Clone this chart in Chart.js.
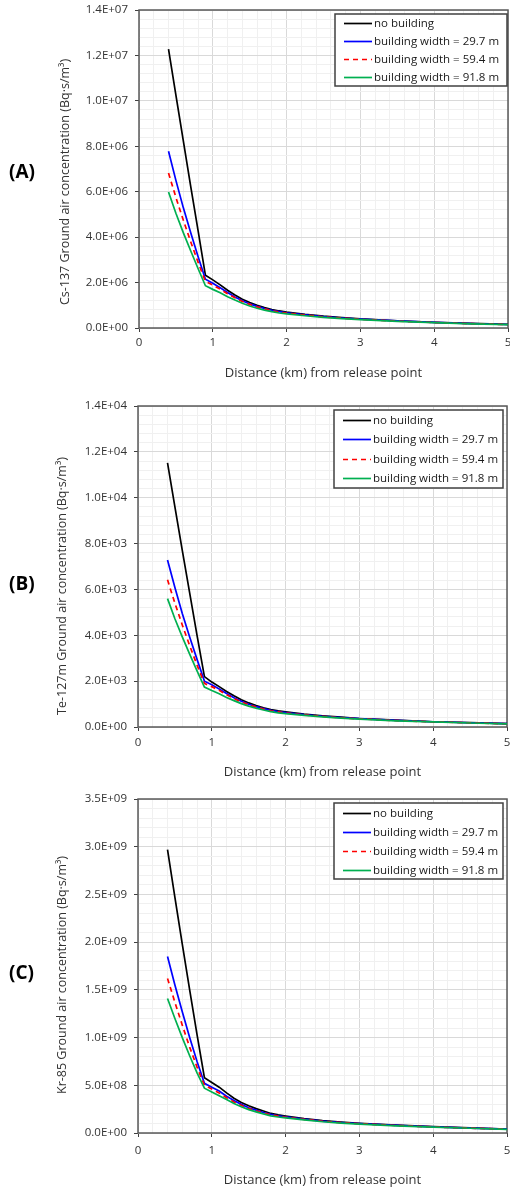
<!DOCTYPE html>
<html>
<head>
<meta charset="utf-8">
<script src="https://cdn.jsdelivr.net/npm/chart.js@4/dist/chart.umd.min.js"></script>
<style>
  body { margin: 0; background: #fff; }
  #wrap { position: relative; width: 510px; height: 1189px; }
  canvas { position: absolute; left: 0; }
  .tag { position: absolute; left: 9px; font: bold 19px "Open Sans"; color: #000; height: 26px; line-height: 26px; }
</style>
</head>
<body>
<div id="wrap">
  <canvas id="chartA" width="510" height="392" style="top:0px"></canvas>
  <canvas id="chartB" width="510" height="396" style="top:392px"></canvas>
  <canvas id="chartC" width="510" height="401" style="top:788px"></canvas>
  <div class="tag" style="top:158px">(A)</div>
  <div class="tag" style="top:570px">(B)</div>
  <div class="tag" style="top:959px">(C)</div>
</div>
<script>
// DATA
const distanceKm = [0.4, 0.5, 0.6, 0.7, 0.8, 0.9, 1.0, 1.1, 1.2, 1.3, 1.4, 1.5, 1.6, 1.7, 1.8, 1.9, 2.0, 2.25, 2.5, 2.75, 3.0, 3.5, 4.0, 4.5, 5.0];
const seriesNames = ["no building", "building width = 29.7 m", "building width = 59.4 m", "building width = 91.8 m"];

// Cs-137 (Bq·s/m3)
const csNoBuilding = [12.28e6, 10.25e6, 8.25e6, 6.25e6, 4.3e6, 2.32e6, 2.12e6, 1.9e6, 1.66e6, 1.45e6, 1.27e6, 1.12e6, 1.0e6, 0.9e6, 0.81e6, 0.75e6, 0.70e6, 0.60e6, 0.52e6, 0.46e6, 0.40e6, 0.32e6, 0.25e6, 0.20e6, 0.16e6];
const csWidth297 = [7.78e6, 6.5e6, 5.3e6, 4.2e6, 3.15e6, 2.15e6, 1.97e6, 1.77e6, 1.56e6, 1.37e6, 1.2e6, 1.06e6, 0.95e6, 0.86e6, 0.78e6, 0.72e6, 0.67e6, 0.58e6, 0.50e6, 0.44e6, 0.39e6, 0.31e6, 0.245e6, 0.195e6, 0.155e6];
const csWidth594 = [6.82e6, 5.75e6, 4.75e6, 3.8e6, 2.9e6, 2.05e6, 1.89e6, 1.71e6, 1.51e6, 1.33e6, 1.17e6, 1.04e6, 0.93e6, 0.84e6, 0.76e6, 0.70e6, 0.655e6, 0.57e6, 0.49e6, 0.43e6, 0.38e6, 0.30e6, 0.24e6, 0.19e6, 0.152e6];
const csWidth918 = [5.99e6, 5.05e6, 4.2e6, 3.4e6, 2.62e6, 1.86e6, 1.70e6, 1.55e6, 1.38e6, 1.23e6, 1.09e6, 0.97e6, 0.87e6, 0.79e6, 0.72e6, 0.66e6, 0.62e6, 0.54e6, 0.47e6, 0.415e6, 0.37e6, 0.29e6, 0.235e6, 0.185e6, 0.148e6];

// Te-127m
const teNoBuilding = [11.52e3, 9.6e3, 7.7e3, 5.85e3, 4.0e3, 2.2e3, 1.96e3, 1.76e3, 1.55e3, 1.36e3, 1.19e3, 1.05e3, 0.94e3, 0.84e3, 0.76e3, 0.70e3, 0.66e3, 0.56e3, 0.49e3, 0.43e3, 0.37e3, 0.30e3, 0.23e3, 0.19e3, 0.15e3];
const teWidth297 = [7.28e3, 6.08e3, 4.95e3, 3.92e3, 2.95e3, 2.0e3, 1.84e3, 1.66e3, 1.46e3, 1.28e3, 1.12e3, 0.99e3, 0.89e3, 0.80e3, 0.73e3, 0.67e3, 0.63e3, 0.54e3, 0.47e3, 0.41e3, 0.365e3, 0.29e3, 0.23e3, 0.185e3, 0.145e3];
const teWidth594 = [6.42e3, 5.4e3, 4.45e3, 3.55e3, 2.7e3, 1.9e3, 1.76e3, 1.6e3, 1.41e3, 1.24e3, 1.09e3, 0.97e3, 0.87e3, 0.78e3, 0.71e3, 0.66e3, 0.61e3, 0.53e3, 0.46e3, 0.40e3, 0.355e3, 0.28e3, 0.225e3, 0.18e3, 0.142e3];
const teWidth918 = [5.6e3, 4.72e3, 3.93e3, 3.18e3, 2.45e3, 1.74e3, 1.59e3, 1.45e3, 1.29e3, 1.15e3, 1.02e3, 0.91e3, 0.82e3, 0.74e3, 0.67e3, 0.62e3, 0.58e3, 0.505e3, 0.44e3, 0.39e3, 0.345e3, 0.27e3, 0.22e3, 0.175e3, 0.138e3];

// Kr-85
const krNoBuilding = [2.97e9, 2.47e9, 1.98e9, 1.5e9, 1.03e9, 0.58e9, 0.53e9, 0.48e9, 0.42e9, 0.365e9, 0.32e9, 0.285e9, 0.255e9, 0.23e9, 0.205e9, 0.19e9, 0.178e9, 0.15e9, 0.13e9, 0.115e9, 0.102e9, 0.082e9, 0.066e9, 0.053e9, 0.042e9];
const krWidth297 = [1.85e9, 1.55e9, 1.27e9, 1.0e9, 0.75e9, 0.52e9, 0.48e9, 0.44e9, 0.385e9, 0.34e9, 0.30e9, 0.265e9, 0.24e9, 0.215e9, 0.195e9, 0.18e9, 0.17e9, 0.145e9, 0.125e9, 0.11e9, 0.099e9, 0.08e9, 0.064e9, 0.052e9, 0.041e9];
const krWidth594 = [1.62e9, 1.37e9, 1.13e9, 0.9e9, 0.69e9, 0.5e9, 0.46e9, 0.42e9, 0.37e9, 0.325e9, 0.29e9, 0.257e9, 0.233e9, 0.21e9, 0.19e9, 0.176e9, 0.165e9, 0.142e9, 0.123e9, 0.108e9, 0.097e9, 0.078e9, 0.063e9, 0.051e9, 0.04e9];
const krWidth918 = [1.41e9, 1.2e9, 1.0e9, 0.81e9, 0.63e9, 0.47e9, 0.43e9, 0.39e9, 0.35e9, 0.31e9, 0.275e9, 0.245e9, 0.222e9, 0.20e9, 0.18e9, 0.168e9, 0.158e9, 0.137e9, 0.118e9, 0.104e9, 0.094e9, 0.075e9, 0.061e9, 0.05e9, 0.039e9];

// axis ranges: [max, major step]
const csAxis = [1.4e7, 2e6];
const teAxis = [1.4e4, 2e3];
const krAxis = [3.5e9, 5e8];
const xAxisKm = [0, 5, 1];

const lineStyles = [
  { color: "#000000", dash: [] },
  { color: "#0000ff", dash: [] },
  { color: "#ff0000", dash: [5, 4] },
  { color: "#00b050", dash: [] },
];

function sci(v) {
  const parts = v.toExponential(1).split("e");
  const e = parseInt(parts[1], 10);
  return parts[0] + "E" + (e < 0 ? "-" : "+") + String(Math.abs(e)).padStart(2, "0");
}

// frame around the plot area
const frame = {
  id: "frame",
  beforeDatasetsDraw(chart) {
    const { ctx, chartArea: a } = chart;
    ctx.save();
    ctx.strokeStyle = "#595959";
    ctx.lineWidth = 1.5;
    ctx.strokeRect(a.left, a.top, a.right - a.left, a.bottom - a.top);
    ctx.restore();
  },
};

// legend box inside the plot, top right
const legendBox = {
  id: "legendBox",
  afterDraw(chart, args, o) {
    const { ctx, chartArea } = chart;
    const x0 = chartArea.right - o.gap - o.w;
    const y0 = chartArea.top + o.top;
    ctx.save();
    ctx.fillStyle = "#fff";
    ctx.fillRect(x0, y0, o.w, o.h);
    ctx.strokeStyle = "#404040";
    ctx.lineWidth = 1.5;
    ctx.strokeRect(x0, y0, o.w, o.h);
    const step = o.h / 4;
    chart.data.datasets.forEach((ds, i) => {
      const y = Math.round(y0 + step * (i + 0.5)) + 0.5;
      ctx.beginPath();
      ctx.setLineDash(ds.borderDash);
      ctx.strokeStyle = ds.borderColor;
      ctx.lineWidth = ds.borderWidth;
      ctx.moveTo(x0 + 9, y);
      ctx.lineTo(x0 + 37, y);
      ctx.stroke();
      ctx.setLineDash([]);
      ctx.fillStyle = "#1a1a1a";
      ctx.font = '11.5px "Open Sans"';
      ctx.textBaseline = "middle";
      ctx.fillText(ds.label, x0 + 39, y);
    });
    ctx.restore();
  },
};

// rotated y title, placed by hand like the original
const yTitle = {
  id: "yTitle",
  afterDraw(chart, args, o) {
    const ctx = chart.ctx;
    ctx.save();
    ctx.translate(o.x, o.y);
    ctx.rotate(-Math.PI / 2);
    ctx.fillStyle = "#333333";
    ctx.font = '12.5px "Open Sans"';
    ctx.textAlign = "center";
    ctx.textBaseline = "middle";
    ctx.fillText(o.text, 0, 0);
    ctx.restore();
  },
};

function makeChart(id, values, axis, title, p) {
  const canvas = document.getElementById(id);
  const H = canvas.height;
  const minor = axis[1] / 5;
  return new Chart(canvas, {
    type: "line",
    data: {
      datasets: values.map((vals, i) => ({
        label: seriesNames[i],
        data: distanceKm.map((d, j) => ({ x: d, y: vals[j] })),
        borderColor: lineStyles[i].color,
        borderDash: lineStyles[i].dash,
        borderWidth: 1.7,
        pointRadius: 0,
        tension: 0,
        order: 3 - i,
      })),
    },
    options: {
      responsive: false,
      animation: false,
      devicePixelRatio: 1,
      layout: { padding: { top: p.top, right: 510 - p.right, left: 0, bottom: 0 } },
      plugins: {
        legend: { display: false },
        tooltip: { enabled: false },
        legendBox: p.legend,
        yTitle: { text: title, x: p.titleX, y: p.titleY },
      },
      scales: {
        x: {
          type: "linear",
          min: xAxisKm[0],
          max: xAxisKm[1],
          ticks: {
            stepSize: xAxisKm[2] / 5,
            autoSkip: false,
            maxRotation: 0,
            padding: p.xPad,
            color: "#333333",
            font: { family: "Open Sans", size: 11.5 },
            callback: (v, i) => (i % 5 === 0 ? String(Math.round(v)) : ""),
          },
          grid: {
            color: (c) => (c.index % 5 === 0 ? "#d9d9d9" : "#f0f0f0"),
            tickColor: (c) => (c.index % 5 === 0 ? "#404040" : "rgba(0,0,0,0)"),
            tickLength: 4,
          },
          border: { display: false },
          title: {
            display: true,
            text: "Distance (km) from release point",
            color: "#333333",
            font: { family: "Open Sans", size: 13 },
            padding: { top: 0, bottom: p.xTitlePad },
          },
          afterFit(s) {
            s.height = H - p.bottom;
            s.paddingLeft = 0;
            s.paddingRight = 0;
          },
        },
        y: {
          min: 0,
          max: axis[0],
          ticks: {
            stepSize: minor,
            autoSkip: false,
            padding: 7,
            color: "#333333",
            font: { family: "Open Sans", size: 11.5 },
            callback: (v, i) => (i % 5 === 0 ? sci(v) : ""),
          },
          grid: {
            color: (c) => (c.index % 5 === 0 ? "#d9d9d9" : "#f0f0f0"),
            tickColor: (c) => (c.index % 5 === 0 ? "#404040" : "rgba(0,0,0,0)"),
            tickLength: 4,
          },
          border: { display: false },
          afterFit(s) {
            s.width = p.left;
            s.paddingTop = 0;
            s.paddingBottom = 0;
          },
        },
      },
    },
    plugins: [frame, legendBox, yTitle],
  });
}

makeChart("chartA", [csNoBuilding, csWidth297, csWidth594, csWidth918], csAxis,
  "Cs-137 Ground air concentration (Bq·s/m³)",
  { top: 10, bottom: 328, left: 139, right: 508, xPad: 4, xTitlePad: 11, titleX: 65, titleY: 182,
    legend: { w: 172, h: 72, top: 4, gap: 1 } });

makeChart("chartB", [teNoBuilding, teWidth297, teWidth594, teWidth918], teAxis,
  "Te-127m Ground air concentration (Bq·s/m³)",
  { top: 14, bottom: 335, left: 138, right: 507, xPad: 5, xTitlePad: 8, titleX: 62, titleY: 194,
    legend: { w: 169, h: 78, top: 4, gap: 4 } });

makeChart("chartC", [krNoBuilding, krWidth297, krWidth594, krWidth918], krAxis,
  "Kr-85 Ground air concentration (Bq·s/m³)",
  { top: 11, bottom: 345, left: 138, right: 507, xPad: 6.5, xTitlePad: 1, titleX: 62, titleY: 187,
    legend: { w: 169, h: 76, top: 4, gap: 4 } });
</script>
</body>
</html>
